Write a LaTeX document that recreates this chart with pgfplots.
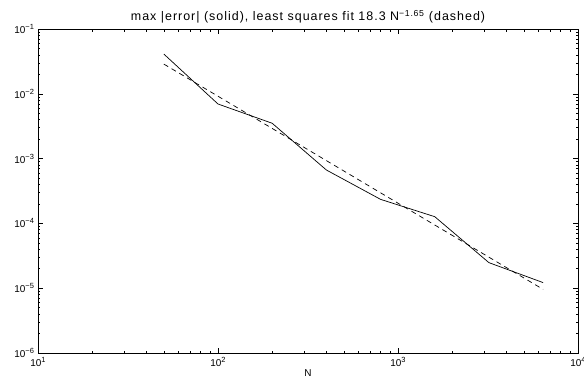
\documentclass[border=0pt]{standalone}
\usepackage{fontspec}
\setmainfont{Liberation Sans}
\newfontfamily\titlefont[LetterSpace=8]{Liberation Sans}
\usepackage{pgfplots}
\pgfplotsset{compat=1.18}
\newcommand{\supx}[1]{\raisebox{4bp}{\fontsize{7.5}{8}\selectfont #1}}
\begin{document}
\begin{tikzpicture}
\path[use as bounding box] (-38bp,-25bp) rectangle (546bp,353bp);
\begin{axis}[at={(0,0)}, anchor=south west, scale only axis,
  width=540bp, height=324bp,
  xmode=log, ymode=log, xmin=10, xmax=10000, ymin=1e-6, ymax=1e-1,
  xtick={10,100,1000,10000},
  xticklabels={10\supx{1},10\supx{2},10\supx{3},10\supx{4}},
  ytick={1e-6,1e-5,1e-4,1e-3,1e-2,1e-1},
  yticklabels={10\supx{−6},10\supx{−5},10\supx{−4},10\supx{−3},10\supx{−2},10\supx{−1}},
  minor xtick={20,30,40,50,60,70,80,90,200,300,400,500,600,700,800,900,2000,3000,4000,5000,6000,7000,8000,9000},
  minor ytick={2e-6,3e-6,4e-6,5e-6,6e-6,7e-6,8e-6,9e-6,2e-5,3e-5,4e-5,5e-5,6e-5,7e-5,8e-5,9e-5,2e-4,3e-4,4e-4,5e-4,6e-4,7e-4,8e-4,9e-4,2e-3,3e-3,4e-3,5e-3,6e-3,7e-3,8e-3,9e-3,2e-2,3e-2,4e-2,5e-2,6e-2,7e-2,8e-2,9e-2},
  tick label style={font=\fontsize{10}{11}\selectfont},
  xticklabel style={yshift=-0.5bp},
  yticklabel style={xshift=-0.5bp},
  title={max |error| (solid), least squares fit 18.3 N\textsuperscript{−1.65} (dashed)},
  title style={font=\titlefont\fontsize{12.5}{13}\selectfont, yshift=-4bp},
  xlabel={N},
  xlabel style={font=\fontsize{10}{11}\selectfont, at={(axis description cs:0.5,0)}, anchor=center, yshift=-20bp},
  axis line style={line width=1bp},
  major tick length=5bp, minor tick length=2.5bp,
  every tick/.style={black, line width=0.5bp},
]
\addplot[black, line width=0.7bp] coordinates {
(50,0.0411) (100,6.96e-3) (200,3.51e-3) (400,6.67e-4) (800,2.35e-4) (1600,1.27e-4) (3200,2.48e-5) (6400,1.22e-5)};
\addplot[black, line width=0.7bp, dash pattern=on 5bp off 4bp] coordinates {
(50,0.02877) (100,9.172e-3) (200,2.922e-3) (400,9.310e-4) (800,2.966e-4) (1600,9.450e-5) (3200,3.011e-5) (6400,9.593e-6)};
\end{axis}
\end{tikzpicture}
\end{document}
